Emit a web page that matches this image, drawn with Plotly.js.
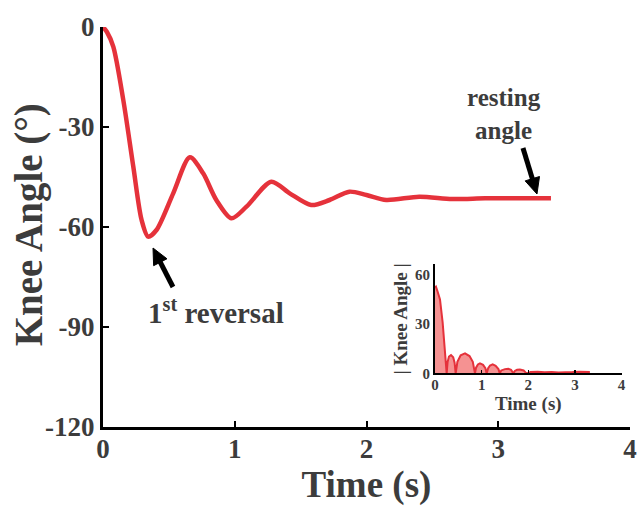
<!DOCTYPE html>
<html>
<head>
<meta charset="utf-8">
<script src="https://cdn.plot.ly/plotly-3.0.1.min.js"></script>
<style>html,body{margin:0;padding:0;background:#fff;}#chart{width:642px;height:506px;}</style>
</head>
<body>
<div id="chart"></div>
<script>
// Main trace: knee angle over time
const timeMain = [0, 0.03, 0.078, 0.154, 0.23, 0.293, 0.343, 0.406, 0.533, 0.659, 0.76, 0.86, 0.975, 1.089, 1.278, 1.417, 1.58, 1.72, 1.87, 2.0, 2.15, 2.40, 2.65, 2.90, 3.16, 3.40];
const angleMain = [0, -1.5, -5.9, -21.9, -41.9, -57.9, -62.9, -60.9, -49.9, -39.1, -43.9, -51.9, -57.4, -53.9, -46.4, -49.9, -53.4, -51.9, -49.4, -50.4, -51.9, -50.9, -51.6, -51.4, -51.4, -51.4];

// Inset: |knee angle - resting angle|
const timeInset = [0, 0.02, 0.05, 0.107, 0.164, 0.214, 0.25,
  0.27, 0.30, 0.343, 0.39, 0.42, 0.443,
  0.48, 0.55, 0.643, 0.74, 0.81, 0.857,
  0.88, 0.92, 0.964, 1.03, 1.08, 1.107,
  1.14, 1.18, 1.236, 1.30, 1.36, 1.39,
  1.42, 1.50, 1.57, 1.63, 1.68,
  1.71, 1.76, 1.82, 1.90, 1.96,
  2.05, 2.2, 2.35, 2.5, 2.65, 2.8, 2.95, 3.1, 3.2, 3.32];
const absAngleInset = [51.9, 52.5, 50, 44.8, 30.7, 14.5, 0,
  7, 10.2, 11.1, 9.8, 6.5, 0,
  7, 11, 12.1, 10.5, 7, 0,
  3.5, 5.4, 6.1, 5.2, 3.2, 0,
  3.2, 4.8, 5.5, 4.6, 2.6, 0,
  1.8, 2.6, 2.8, 2.2, 0,
  1.5, 2.2, 2.4, 1.8, 0,
  0.8, 1.0, 0.7, 0.9, 0.6, 0.9, 0.8, 1.0, 1.0, 0.8];

const mainXTicks = [0, 1, 2, 3, 4];
const mainYTicks = [0, -30, -60, -90, -120];
const insetXTicks = [0, 1, 2, 3, 4];
const insetYTicks = [0, 30, 60];

// Annotation arrows: head point (data) and tail offset (px)
const restingArrow = {x: 3.294, y: -50.1, dx: -14, dy: -46};
const reversalArrow = {x: 0.3795, y: -66.3, dx: 20, dy: 39};

const serif = "Liberation Serif, Times New Roman, serif";
const gray = "#3c3c3c";
const red = "#e5323b";
const b = v => "<b>" + v + "</b>";

const M = {l: 103, r: 12, t: 27, b: 79};
const W = 642, H = 506;
const XR = [0, 4], YR = [-120, 0];
const kx = (W - M.l - M.r) / (XR[1] - XR[0]);
const ky = (H - M.t - M.b) / (YR[1] - YR[0]);

function arrowShapes(a) {
  const len = Math.hypot(a.dx, a.dy);
  const ux = -a.dx / len, uy = -a.dy / len; // tail->head direction (screen)
  const headLen = 16, halfW = 7.5;
  const bx = -ux * headLen, by = -uy * headLen;
  const px = -uy * halfW, py = ux * halfW;
  const d = (ox, oy) => [a.x + ox / kx, a.y - oy / ky];
  const t = d(a.dx, a.dy), bc = d(bx * 0.8, by * 0.8);
  const h = d(0, 0), c1 = d(bx + px, by + py), c2 = d(bx - px, by - py);
  return [
    {type: "line", xref: "x", yref: "y", x0: t[0], y0: t[1], x1: bc[0], y1: bc[1], line: {color: "#000", width: 5}},
    {type: "path", xref: "x", yref: "y", path: `M ${h[0]},${h[1]} L ${c1[0]},${c1[1]} L ${c2[0]},${c2[1]} Z`, fillcolor: "#000", line: {color: "#000", width: 1}}
  ];
}

const data = [
  {x: timeMain, y: angleMain, type: "scatter", mode: "lines", line: {color: red, width: 4.5, shape: "spline", smoothing: 0.8}, xaxis: "x", yaxis: "y", hoverinfo: "skip"},
  {x: timeInset, y: absAngleInset, type: "scatter", mode: "lines", fill: "tozeroy", fillcolor: "rgba(242,110,110,0.75)", line: {color: red, width: 2}, xaxis: "x2", yaxis: "y2", hoverinfo: "skip"}
];

const layout = {
  width: W, height: H,
  margin: M,
  paper_bgcolor: "#fff", plot_bgcolor: "rgba(0,0,0,0)",
  showlegend: false,
  font: {family: serif, color: gray},
  xaxis: {
    domain: [0, 1], range: XR, tickvals: mainXTicks, ticktext: mainXTicks.map(b),
    showline: true, linecolor: "#000", linewidth: 3, ticks: "inside", ticklen: 6, tickwidth: 2, tickcolor: "#000",
    showgrid: false, zeroline: false, tickfont: {family: serif, size: 27, color: gray}, ticklabelstandoff: -4,
    title: {text: "<b>Time (s)</b>", font: {family: serif, size: 37, color: gray}, standoff: 0}
  },
  yaxis: {
    domain: [0, 1], range: YR, tickvals: mainYTicks, ticktext: mainYTicks.map(b),
    showline: true, linecolor: "#000", linewidth: 3, ticks: "inside", ticklen: 6, tickwidth: 2, tickcolor: "#000",
    showgrid: false, zeroline: false, tickfont: {family: serif, size: 27, color: gray}
  },
  xaxis2: {
    domain: [0.630, 0.984], range: [0, 4], anchor: "y2", tickvals: insetXTicks, ticktext: insetXTicks.map(b),
    showline: true, linecolor: "#000", linewidth: 2, ticks: "inside", ticklen: 3, tickwidth: 1.5, tickcolor: "#000",
    showgrid: false, zeroline: false, tickfont: {family: serif, size: 15, color: gray}, ticklabelstandoff: -3,
    title: {text: "<b>Time (s)</b>", font: {family: serif, size: 19, color: gray}, standoff: 0}
  },
  yaxis2: {
    domain: [0.134, 0.4065], range: [0, 66], anchor: "x2", tickvals: insetYTicks, ticktext: insetYTicks.map(b),
    showline: true, linecolor: "#000", linewidth: 2, ticks: "", showgrid: false, zeroline: false,
    tickfont: {family: serif, size: 15, color: gray},
    title: {text: "<b>| Knee Angle |</b>", font: {family: serif, size: 19, color: gray}, standoff: 2}
  },
  shapes: [...arrowShapes(restingArrow), ...arrowShapes(reversalArrow)],
  annotations: [
    {xref: "paper", yref: "paper", x: -0.14, y: 0.505, text: "<b>Knee Angle (°)</b>", textangle: -90, showarrow: false, font: {family: serif, size: 39, color: gray}, xanchor: "center", yanchor: "middle"},
    {xref: "x", yref: "y", x: 3.044, y: -26.1, text: "<b>resting<br>angle</b>", showarrow: false, font: {family: serif, size: 25, color: gray}, xanchor: "center", yanchor: "middle"},
    {xref: "x", yref: "y", x: 0.86, y: -85.1, text: "<b>1<sup>st</sup> reversal</b>", showarrow: false, font: {family: serif, size: 29, color: gray}, xanchor: "center", yanchor: "middle"}
  ]
};

Plotly.newPlot("chart", data, layout, {displayModeBar: false, staticPlot: true});
</script>
</body>
</html>
